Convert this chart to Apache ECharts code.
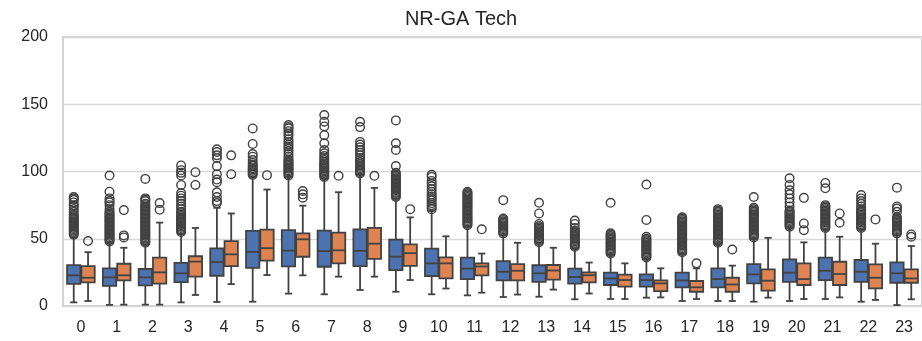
<!DOCTYPE html>
<html>
<head>
<meta charset="utf-8">
<title>NR-GA Tech</title>
<script src="https://cdn.jsdelivr.net/npm/echarts@6/dist/echarts.min.js"></script>
<style>
  html, body { margin: 0; padding: 0; background: #ffffff; }
  #chart { width: 922px; height: 341px; }
</style>
</head>
<body>
<div id="chart"></div>
<script>
// Hour-of-day categories along the x axis
const hours = ['0','1','2','3','4','5','6','7','8','9','10','11','12','13','14','15','16','17','18','19','20','21','22','23'];
const yTicks = [0, 50, 100, 150, 200];

// Box statistics per hour: [lower whisker, Q1, median, Q3, upper whisker]
const blueStats = [
  [2.7, 16.5, 22.8, 30.4, 51],
  [0.8, 15, 21.3, 28, 47],
  [1, 15.3, 21.3, 27.5, 45.5],
  [2.7, 17.8, 24.3, 32, 53.5],
  [3, 22.5, 32.7, 42.8, 73],
  [3.2, 28.4, 40.2, 55.8, 96],
  [9.2, 29.5, 41.2, 56.4, 96],
  [8.7, 29.2, 40.8, 56.1, 95],
  [11.9, 29.7, 41, 57, 97.5],
  [10.6, 26.6, 36.7, 49.4, 80],
  [8.7, 22.3, 31.7, 42.6, 71],
  [7.9, 20, 27.8, 35.9, 59],
  [6.7, 19, 25.5, 33.4, 53],
  [6.9, 17.9, 24.3, 30.3, 47],
  [5, 16.7, 21.6, 27.8, 43],
  [5.2, 15.6, 20.5, 24.8, 38],
  [6.2, 14.4, 19.3, 23.5, 35],
  [3.7, 13.9, 19, 24.8, 39],
  [3.7, 13.9, 20, 28, 46],
  [3.2, 16.8, 23.5, 31.2, 50],
  [3.7, 18, 24.8, 34.7, 58],
  [5.2, 19.3, 26.2, 35.9, 57],
  [3.2, 18, 25.5, 34.2, 57],
  [0.7, 17.3, 24.3, 32.4, 53]
];
const orangeStats = [
  [3.7, 17.6, 21, 29.7, 40],
  [1, 19, 22.8, 31.4, 43.3],
  [1, 16.6, 25, 36, 62],
  [8.2, 21.8, 33, 37, 58],
  [16.3, 29.7, 38.4, 48.3, 68.8],
  [23, 33.7, 43, 56.8, 86.6],
  [22.8, 36.6, 49.6, 54, 74.6],
  [21.8, 31.7, 41.4, 54.6, 84.6],
  [21.8, 35, 46.3, 58.1, 87.8],
  [19.3, 29.8, 39.3, 45.8, 65.9],
  [13, 20.6, 31.7, 36.1, 51.8],
  [9.9, 22.8, 29.4, 31.7, 39],
  [8.5, 19, 26.2, 31.1, 47],
  [12.2, 19.6, 26.4, 30.5, 43.3],
  [9.3, 17.6, 22.9, 25, 32.3],
  [5.2, 14.4, 19.3, 23.3, 31.7],
  [6.4, 11.1, 16.8, 19, 28],
  [5.2, 10.6, 13.9, 18.6, 28],
  [3.7, 10.6, 16, 21, 30],
  [6.2, 11.4, 18.8, 27.2, 50.7],
  [5.2, 15.6, 20, 31.7, 47.3],
  [6.4, 15.6, 23.8, 32.9, 51.5],
  [4.5, 13.1, 21, 30.9, 46.3],
  [5, 17.3, 20.5, 27.2, 44.6]
];

// Points beyond the whiskers, per hour
const blueOutliers = [
  [53,54,55,56,57,58,59,60,61,62,63,64,65,66,67,68,70,72,74,75,77,79,80,81],
  [48,49,50,51,52,53,54,55,56,57,58,59,60,61,62,63,64,65,66,67,68,69,70,72,75,77,78,80,85,97],
  [47,48,49,50,51,52,53,54,55,56,57,58,59,60,61,62,63,64,65,66,67,68,69,70,71,72,73,74,75,76,78,79,80,94.5],
  [55,56,57,58,59,60,61,62,63,64,65,66,67,68,69,70,72,74,76,78,80,82,84,90,97,99,101,104.5],
  [76.5,78,81,84.5,92,94,98,104,110,112,114.5,116.5],
  [97.5,98.5,99.5,100.5,101.5,102.5,104,105,106.5,108.5,111,113,120.5,132],
  [97,98,99,100,101,102,103,104,105,106,107,108,109,111,113,115,117,118.5,120,122,124,126.5,128,130,132,133,134.5],
  [96,97,98,99,100,101,102,103,104,105,106,107,108.5,110,111.5,113.5,116,121,127,133.5,137,142],
  [98.5,99.5,100.5,101.5,102.5,103.5,104.5,105.5,107,108.5,110,112,114,116,118,120,122,133,137],
  [81,82,83,84,85,86,87,88,89,90,91,92,93,94,95,96,97,98,99,104,116,121,138],
  [72,73.5,75,76.5,78.5,80,81.5,83,85,87,89,91,93,96,97.5],
  [60,61,62,63,64,65,66,67,68,69,70,71,72,73,74,75,76,77,78,79,80,81,82,83,84,85],
  [54,55,56,57,58,59,60,61,62,63,64,65,78.7],
  [47.5,48.5,49.5,50.5,51.5,52.5,53.5,54.5,55.5,56.5,57.5,58.5,59.5,61,68.8,76.7],
  [44,45,46,47,48,49,50,51,52,53,54,55,56,58,61,63.5],
  [39,40,41,42,43,44,45,46,47,48,49,50,51,52,53,54,76.7],
  [36,37,38,39,40,41,42,43,44,45,46,47,48,49,50,51.5,64,90.3],
  [40,41,42,43,44,45,46,47,48,49,50,51,52,53,54,55,56,57,58,59,60,61,62,63,64,65,66],
  [47,48,49,50,51,52,53,54,55,56,57,58,59,60,61,62,63,64,65,66,67,68,69,70,71,72],
  [51,52,53,54,55,56,57,58,59,60,61,62,63,64,65,66,67,68,69,70,71,72,73,81],
  [59,60,61,62,63,64,65,66,67,68,69,70,71,74,77,80,83,86,90,95],
  [58,59,60,61,62,63,64,65,66,67,68,69,70,71,72,73,74,75,87.5,91.5],
  [58,59,60,61,62,63,64,65,66,67,68,69,70,71,72,74,76,78,80,82.5],
  [54,55,56,57,58,59,60,61,62,63,64,65,66,70,72.5,74,88]
];
const orangeOutliers = [
  [48.3],
  [51, 52.5, 71.3],
  [71.5, 76.5],
  [90, 99.5],
  [98, 112],
  [97.3],
  [80.5, 83, 85.5],
  [96.8],
  [96.8],
  [72],
  [],
  [57],
  [],
  [],
  [],
  [],
  [],
  [31.7],
  [42],
  [],
  [56.4, 61.4, 80.4],
  [61.9, 68.8],
  [64.4],
  [51.5, 53.2]
];

const BLUE = '#4c72b0';
const ORANGE = '#dd8452';
const EDGE = '#424242';
const FONT = '"Liberation Sans", Arial, Helvetica, sans-serif';

// Each hue takes 0.4 of the category band, left (-1) or right (+1) of centre
function boxRenderer(side, fill) {
  return function (params, api) {
    const cat = api.value(0);
    const band = api.size([1, 0])[0];
    const half = band * 0.2;
    const cx = api.coord([cat, 0])[0] + side * half;
    const y = (dim) => api.coord([cat, api.value(dim)])[1];
    const lo = y(1), q1 = y(2), md = y(3), q3 = y(4), hi = y(5);
    const bw = half - 0.5;
    const cap = half * 0.5;
    const line = { stroke: EDGE, lineWidth: 1.8 };
    return {
      type: 'group',
      children: [
        { type: 'line', shape: { x1: cx, y1: q1, x2: cx, y2: lo }, style: line },
        { type: 'line', shape: { x1: cx, y1: q3, x2: cx, y2: hi }, style: line },
        { type: 'line', shape: { x1: cx - cap, y1: lo, x2: cx + cap, y2: lo }, style: line },
        { type: 'line', shape: { x1: cx - cap, y1: hi, x2: cx + cap, y2: hi }, style: line },
        { type: 'rect', shape: { x: cx - bw, y: q3, width: bw * 2, height: q1 - q3 },
          style: { fill: fill, stroke: EDGE, lineWidth: 1.8 } },
        { type: 'line', shape: { x1: cx - bw, y1: md, x2: cx + bw, y2: md }, style: line }
      ]
    };
  };
}

function flierRenderer(side) {
  return function (params, api) {
    const band = api.size([1, 0])[0];
    const p = api.coord([api.value(0), api.value(1)]);
    return {
      type: 'circle',
      shape: { cx: p[0] + side * band * 0.2, cy: p[1], r: 4.3 },
      style: { fill: 'none', stroke: EDGE, lineWidth: 1.4 }
    };
  };
}

const toBoxData = (stats) => stats.map((s, i) => [i].concat(s));
const toFlierData = (lists) => {
  const out = [];
  lists.forEach((vals, i) => vals.forEach((v) => out.push([i, v])));
  return out;
};

const chart = echarts.init(document.getElementById('chart'), null, { renderer: 'canvas' });
chart.setOption({
  animation: false,
  backgroundColor: '#ffffff',
  title: {
    text: 'NR-GA Tech',
    left: 'center',
    top: 9,
    padding: [0, 0, 0, 70],
    textStyle: { fontFamily: FONT, fontSize: 20, fontWeight: 'normal', color: '#262626' }
  },
  grid: {
    left: 63,
    top: 37,
    width: 864,
    height: 269,
    show: true,
    borderColor: '#cfcfcf',
    borderWidth: 1.8,
    backgroundColor: 'transparent'
  },
  xAxis: {
    type: 'category',
    data: hours,
    boundaryGap: true,
    axisLine: { show: false },
    axisTick: { show: false },
    splitLine: { show: false },
    axisLabel: { fontFamily: FONT, fontSize: 16, color: '#262626', margin: 14 }
  },
  yAxis: {
    type: 'value',
    min: yTicks[0],
    max: yTicks[yTicks.length - 1],
    interval: yTicks[1] - yTicks[0],
    axisLine: { show: false },
    axisTick: { show: false },
    splitLine: { show: true, lineStyle: { color: '#d8d8d8', width: 1.4 } },
    axisLabel: { fontFamily: FONT, fontSize: 16, color: '#262626', margin: 15 }
  },
  series: [
    {
      type: 'custom',
      name: 'blue',
      renderItem: boxRenderer(-1, BLUE),
      encode: { x: 0, y: [1, 2, 3, 4, 5] },
      data: toBoxData(blueStats),
      z: 3
    },
    {
      type: 'custom',
      name: 'orange',
      renderItem: boxRenderer(1, ORANGE),
      encode: { x: 0, y: [1, 2, 3, 4, 5] },
      data: toBoxData(orangeStats),
      z: 3
    },
    {
      type: 'custom',
      name: 'blue outliers',
      renderItem: flierRenderer(-1),
      encode: { x: 0, y: 1 },
      data: toFlierData(blueOutliers),
      z: 4
    },
    {
      type: 'custom',
      name: 'orange outliers',
      renderItem: flierRenderer(1),
      encode: { x: 0, y: 1 },
      data: toFlierData(orangeOutliers),
      z: 4
    }
  ]
});
</script>
</body>
</html>
